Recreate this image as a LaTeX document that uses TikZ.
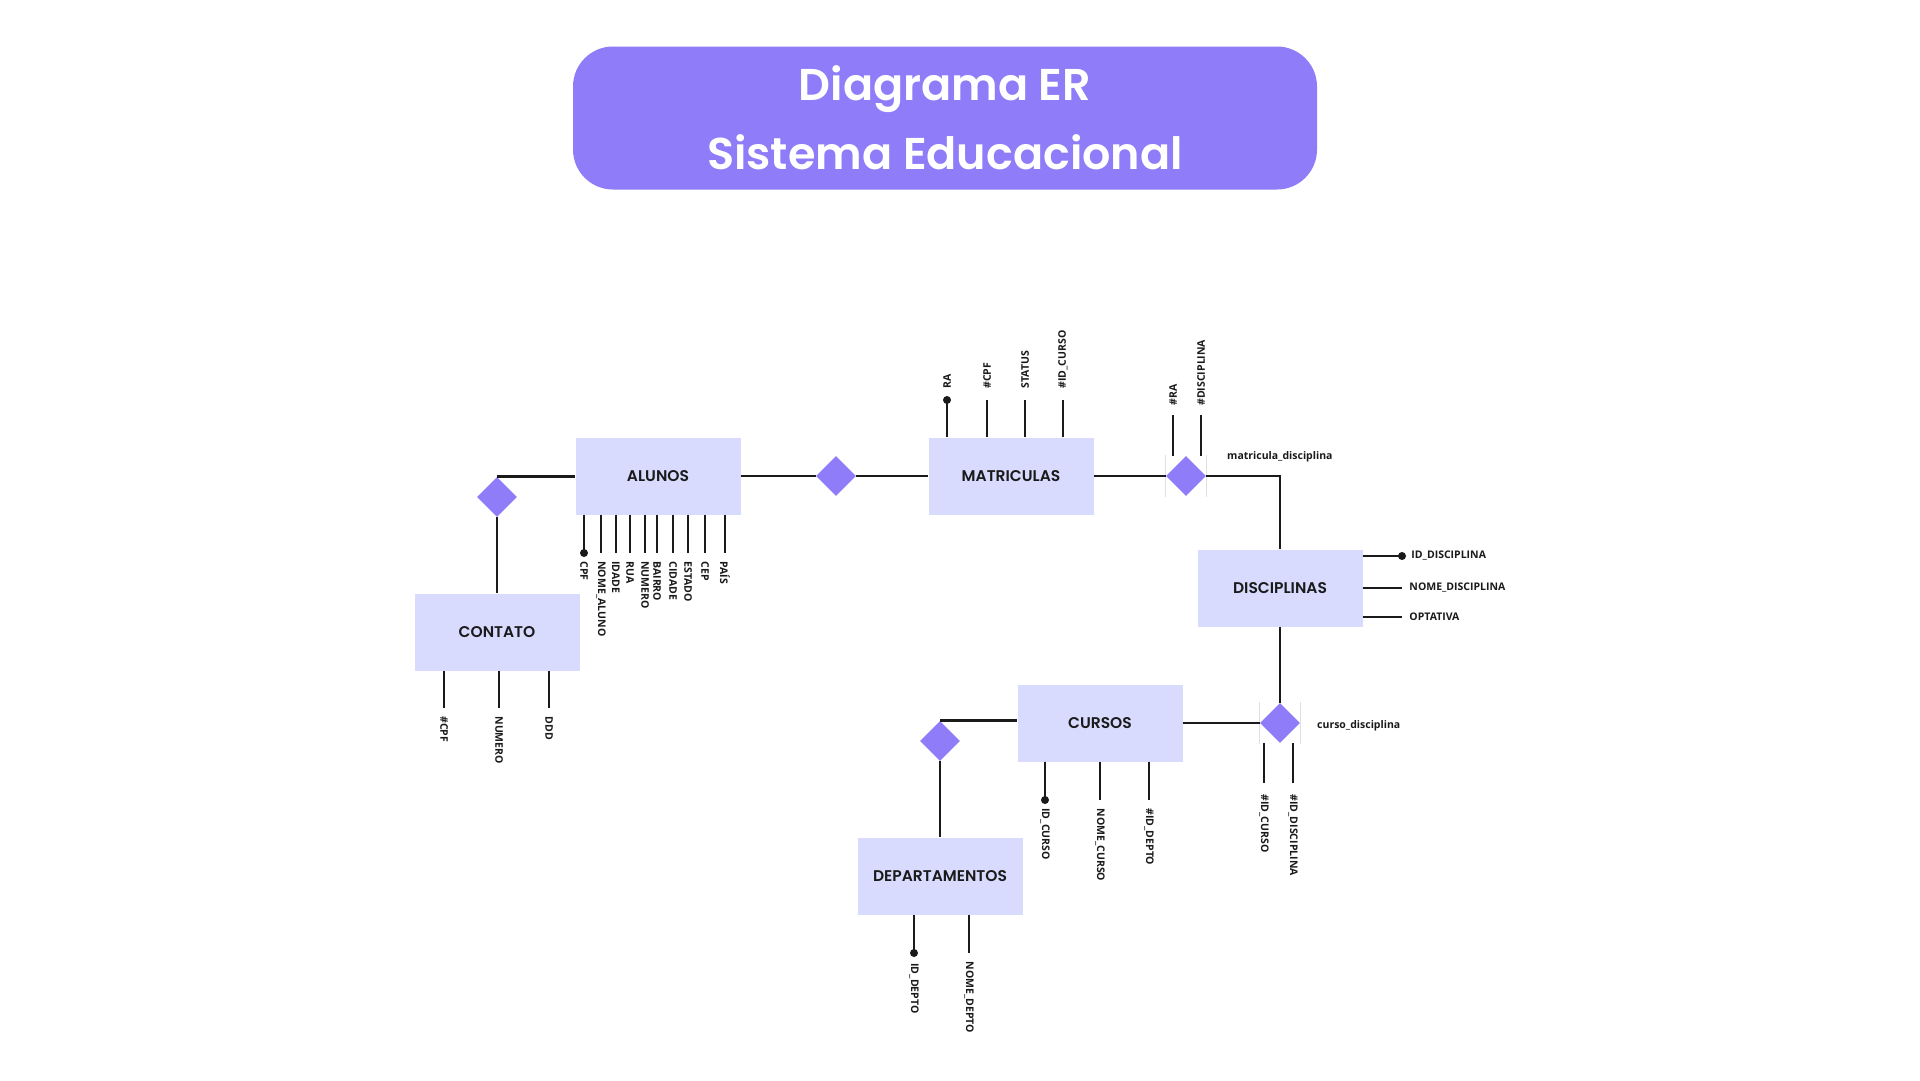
\documentclass[tikz,border=0pt]{standalone}
\usepackage{fontspec}
\setmainfont{Poppins}
\newfontfamily\headfamily{Poppins SemiBold}
\newfontfamily\attrfamily{Open Sans}
\usetikzlibrary{shapes.geometric}

\definecolor{titlepurple}{HTML}{8F7CF8}
\definecolor{entityfill}{HTML}{D8DAFE}
\definecolor{inkblack}{HTML}{1A1A1A}

\begin{document}
\begin{tikzpicture}[x=1pt,y=-1pt]

\tikzset{titlebox/.style = {shape=rectangle, rounded corners=40pt, fill=titlepurple, minimum width=744pt, minimum height=143pt, text=white, align=center, font=\headfamily\fontsize{44.5}{69}\selectfont}}
\tikzset{entity/.style = {shape=rectangle, fill=entityfill, minimum width=165pt, minimum height=77pt, inner sep=0pt, text=inkblack, font=\headfamily\fontsize{15.5}{18}\selectfont}}
\tikzset{relation/.style = {shape=diamond, fill=titlepurple, minimum width=40pt, minimum height=40pt, inner sep=0pt}}
\tikzset{link/.style = {draw=inkblack, line width=2.9pt}}
\tikzset{guide/.style = {draw=black!12, line width=0.8pt}}
\tikzset{attrfont/.style = {inner ysep=0pt, text=inkblack, font=\attrfamily\fontsize{10.5}{12}\selectfont\bfseries}}
\tikzset{attrdown/.style = {attrfont, rotate=-90, anchor=west, inner xsep=7pt}}
\tikzset{attrup/.style = {attrfont, rotate=90, anchor=west, inner xsep=10pt}}
\tikzset{attrright/.style = {attrfont, anchor=west, inner xsep=8pt}}
\tikzset{relname/.style = {attrfont, anchor=west, inner xsep=0pt}}

%background
\fill[white] (0,0) rectangle (1920,1080);
\useasboundingbox (0,0) rectangle (1920,1080);

%title
\node[titlebox] (title) at (945,118) {Diagrama ER\\Sistema Educacional};

%entities
\node[entity] (alunos) at (658,476) {ALUNOS};
\node[entity] (matriculas) at (1011,476) {MATRICULAS};
\node[entity] (contato) at (497,632) {CONTATO};
\node[entity] (disciplinas) at (1280,588) {DISCIPLINAS};
\node[entity] (cursos) at (1100,723) {CURSOS};
\node[entity] (departamentos) at (940,876) {DEPARTAMENTOS};

%relations
\node[relation] (r_contato) at (497,497) {};
\node[relation] (r_matricula) at (836,476) {};
\node[relation] (r_matdisc) at (1186,476) {};
\node[relation] (r_cursodisc) at (1280,723) {};
\node[relation] (r_depto) at (940,741) {};
\node[relname] (n_matdisc) at (1227,457) {matricula\_disciplina};
\node[relname] (n_cursodisc) at (1317,726) {curso\_disciplina};
\draw[guide] (r_matdisc.west) ++(0,-21) -- ++(0,42);
\draw[guide] (r_matdisc.east) ++(0,-21) -- ++(0,42);
\draw[guide] (r_cursodisc.west) ++(0,-21) -- ++(0,42);
\draw[guide] (r_cursodisc.east) ++(0,-21) -- ++(0,42);

%edges
\draw[link] (r_contato.north) -- (r_contato.north -| alunos.west);
\draw[link] (r_contato.south) -- (contato.north);
\draw[link] (alunos.east) -- (r_matricula.west);
\draw[link] (r_matricula.east) -- (matriculas.west);
\draw[link] (matriculas.east) -- (r_matdisc.west);
\draw[link] (r_matdisc.east) -| (disciplinas.north);
\draw[link] (disciplinas.south) -- (r_cursodisc.north);
\draw[link] (cursos.east) -- (r_cursodisc.west);
\draw[link] (r_depto.north) -- (r_depto.north -| cursos.west);
\draw[link] (r_depto.south) -- (departamentos.north);

%attributes alunos
\coordinate (cpf) at (584,553);
\coordinate (nome_aluno) at (601,553);
\coordinate (idade) at (616,553);
\coordinate (rua) at (630,553);
\coordinate (numero) at (645,553);
\coordinate (bairro) at (657,553);
\coordinate (cidade) at (673,553);
\coordinate (estado) at (688,553);
\coordinate (cep) at (705,553);
\coordinate (pais) at (725,553);
\draw[link] (alunos.south -| cpf) -- (cpf) node[attrdown] {CPF};
\fill[inkblack] (cpf) circle (4pt);
\draw[link] (alunos.south -| nome_aluno) -- (nome_aluno) node[attrdown] {NOME\_ALUNO};
\draw[link] (alunos.south -| idade) -- (idade) node[attrdown] {IDADE};
\draw[link] (alunos.south -| rua) -- (rua) node[attrdown] {RUA};
\draw[link] (alunos.south -| numero) -- (numero) node[attrdown] {NUMERO};
\draw[link] (alunos.south -| bairro) -- (bairro) node[attrdown] {BAIRRO};
\draw[link] (alunos.south -| cidade) -- (cidade) node[attrdown] {CIDADE};
\draw[link] (alunos.south -| estado) -- (estado) node[attrdown] {ESTADO};
\draw[link] (alunos.south -| cep) -- (cep) node[attrdown] {CEP};
\draw[link] (alunos.south -| pais) -- (pais) node[attrdown] {PAÍS};

%attributes contato
\coordinate (c_cpf) at (444,708);
\coordinate (c_numero) at (499,708);
\coordinate (c_ddd) at (549,708);
\draw[link] (contato.south -| c_cpf) -- (c_cpf) node[attrdown] {\#CPF};
\draw[link] (contato.south -| c_numero) -- (c_numero) node[attrdown] {NUMERO};
\draw[link] (contato.south -| c_ddd) -- (c_ddd) node[attrdown] {DDD};

%attributes matriculas
\coordinate (ra) at (947,400);
\coordinate (m_cpf) at (987,400);
\coordinate (status) at (1025,400);
\coordinate (m_idcurso) at (1063,400);
\draw[link] (matriculas.north -| ra) -- (ra) node[attrup] {RA};
\fill[inkblack] (ra) circle (4pt);
\draw[link] (matriculas.north -| m_cpf) -- (m_cpf) node[attrup] {\#CPF};
\draw[link] (matriculas.north -| status) -- (status) node[attrup] {STATUS};
\draw[link] (matriculas.north -| m_idcurso) -- (m_idcurso) node[attrup] {\#ID\_CURSO};

%attributes matricula_disciplina
\coordinate (md_ra) at (1173,415);
\coordinate (md_disc) at (1201,415);
\draw[link] (r_matdisc.north -| md_ra) -- (md_ra) node[attrup, inner xsep=8pt] {\#RA};
\draw[link] (r_matdisc.north -| md_disc) -- (md_disc) node[attrup, inner xsep=8pt] {\#DISCIPLINA};

%attributes disciplinas
\coordinate (id_disc) at (1402,556);
\coordinate (nome_disc) at (1402,588);
\coordinate (optativa) at (1402,617);
\draw[link] (disciplinas.east |- id_disc) -- (id_disc) node[attrright] {ID\_DISCIPLINA};
\fill[inkblack] (id_disc) circle (4pt);
\draw[link] (disciplinas.east |- nome_disc) -- (nome_disc) node[attrright, inner xsep=6pt] {NOME\_DISCIPLINA};
\draw[link] (disciplinas.east |- optativa) -- (optativa) node[attrright, inner xsep=6pt] {OPTATIVA};

%attributes curso_disciplina
\coordinate (cd_curso) at (1264,783);
\coordinate (cd_disc) at (1293,783);
\draw[link] (r_cursodisc.south -| cd_curso) -- (cd_curso) node[attrdown, inner xsep=10pt] {\#ID\_CURSO};
\draw[link] (r_cursodisc.south -| cd_disc) -- (cd_disc) node[attrdown, inner xsep=10pt] {\#ID\_DISCIPLINA};

%attributes cursos
\coordinate (id_curso) at (1045,800);
\coordinate (nome_curso) at (1100,800);
\coordinate (cs_depto) at (1149,800);
\draw[link] (cursos.south -| id_curso) -- (id_curso) node[attrdown] {ID\_CURSO};
\fill[inkblack] (id_curso) circle (4pt);
\draw[link] (cursos.south -| nome_curso) -- (nome_curso) node[attrdown] {NOME\_CURSO};
\draw[link] (cursos.south -| cs_depto) -- (cs_depto) node[attrdown] {\#ID\_DEPTO};

%attributes departamentos
\coordinate (id_depto) at (914,953);
\coordinate (nome_depto) at (969,953);
\draw[link] (departamentos.south -| id_depto) -- (id_depto) node[attrdown, inner xsep=9pt] {ID\_DEPTO};
\fill[inkblack] (id_depto) circle (4pt);
\draw[link] (departamentos.south -| nome_depto) -- (nome_depto) node[attrdown] {NOME\_DEPTO};

\end{tikzpicture}
\end{document}
